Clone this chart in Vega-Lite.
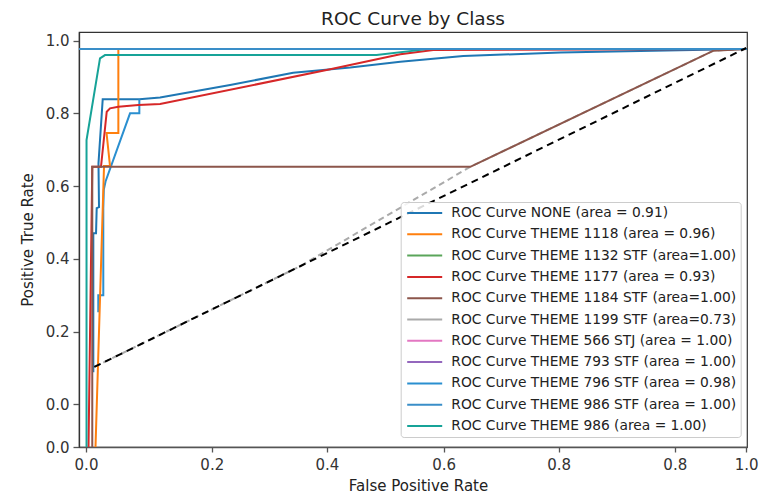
{
  "$schema": "https://vega.github.io/schema/vega-lite/v6.json",
  "width": 668,
  "height": 415,
  "autosize": {"type": "none"},
  "padding": {"left": 79, "top": 32, "right": 16, "bottom": 51},
  "background": "white",
  "title": {"text": "ROC Curve by Class", "fontSize": 18.5, "fontWeight": "normal", "font": "DejaVu Sans", "color": "#222222", "offset": 4},
  "datasets": {
    "grey": [
      {"s": "ROC Curve THEME 1199 STF (area=0.73)", "o": 1, "x": 0.0126, "y": 0.1026},
      {"s": "ROC Curve THEME 1199 STF (area=0.73)", "o": 2, "x": 0.3244, "y": 0.3796},
      {"s": "ROC Curve THEME 1199 STF (area=0.73)", "o": 3, "x": 0.5821, "y": 0.6528},
      {"s": "ROC Curve THEME 1199 STF (area=0.73)", "o": 4, "x": 0.9504, "y": 0.972},
      {"s": "ROC Curve THEME 1199 STF (area=0.73)", "o": 5, "x": 1.0, "y": 0.977}
    ],
    "curves": [
      {"s": "ROC Curve NONE (area = 0.91)", "o": 1, "x": 0.0111, "y": 0.088},
      {"s": "ROC Curve NONE (area = 0.91)", "o": 2, "x": 0.0111, "y": 0.4704},
      {"s": "ROC Curve NONE (area = 0.91)", "o": 3, "x": 0.0152, "y": 0.4704},
      {"s": "ROC Curve NONE (area = 0.91)", "o": 4, "x": 0.0162, "y": 0.5392},
      {"s": "ROC Curve NONE (area = 0.91)", "o": 5, "x": 0.0197, "y": 0.5419},
      {"s": "ROC Curve NONE (area = 0.91)", "o": 6, "x": 0.0189, "y": 0.6622},
      {"s": "ROC Curve NONE (area = 0.91)", "o": 7, "x": 0.0253, "y": 0.8382},
      {"s": "ROC Curve NONE (area = 0.91)", "o": 8, "x": 0.0808, "y": 0.8382},
      {"s": "ROC Curve NONE (area = 0.91)", "o": 9, "x": 0.1122, "y": 0.8432},
      {"s": "ROC Curve NONE (area = 0.91)", "o": 10, "x": 0.2183, "y": 0.8776},
      {"s": "ROC Curve NONE (area = 0.91)", "o": 11, "x": 0.3138, "y": 0.9114},
      {"s": "ROC Curve NONE (area = 0.91)", "o": 12, "x": 0.4002, "y": 0.9257},
      {"s": "ROC Curve NONE (area = 0.91)", "o": 13, "x": 0.476, "y": 0.9417},
      {"s": "ROC Curve NONE (area = 0.91)", "o": 14, "x": 0.5715, "y": 0.9573},
      {"s": "ROC Curve NONE (area = 0.91)", "o": 15, "x": 0.7185, "y": 0.967},
      {"s": "ROC Curve NONE (area = 0.91)", "o": 16, "x": 1.0, "y": 0.977},
      {"s": "ROC Curve THEME 796 STF (area = 0.98)", "o": 1, "x": 0.0186, "y": 0.2531},
      {"s": "ROC Curve THEME 796 STF (area = 0.98)", "o": 2, "x": 0.0186, "y": 0.2999},
      {"s": "ROC Curve THEME 796 STF (area = 0.98)", "o": 3, "x": 0.0262, "y": 0.2999},
      {"s": "ROC Curve THEME 796 STF (area = 0.98)", "o": 4, "x": 0.0262, "y": 0.5392},
      {"s": "ROC Curve THEME 796 STF (area = 0.98)", "o": 5, "x": 0.027, "y": 0.59},
      {"s": "ROC Curve THEME 796 STF (area = 0.98)", "o": 6, "x": 0.0296, "y": 0.6125},
      {"s": "ROC Curve THEME 796 STF (area = 0.98)", "o": 7, "x": 0.0667, "y": 0.7997},
      {"s": "ROC Curve THEME 796 STF (area = 0.98)", "o": 8, "x": 0.0808, "y": 0.7997},
      {"s": "ROC Curve THEME 796 STF (area = 0.98)", "o": 9, "x": 0.0808, "y": 0.8382},
      {"s": "ROC Curve THEME 1118 (area = 0.96)", "o": 1, "x": 0.0144, "y": -0.1175},
      {"s": "ROC Curve THEME 1118 (area = 0.96)", "o": 2, "x": 0.0273, "y": 0.6547},
      {"s": "ROC Curve THEME 1118 (area = 0.96)", "o": 3, "x": 0.0364, "y": 0.6547},
      {"s": "ROC Curve THEME 1118 (area = 0.96)", "o": 4, "x": 0.0311, "y": 0.7455},
      {"s": "ROC Curve THEME 1118 (area = 0.96)", "o": 5, "x": 0.049, "y": 0.7455},
      {"s": "ROC Curve THEME 1118 (area = 0.96)", "o": 6, "x": 0.049, "y": 0.977},
      {"s": "ROC Curve THEME 1177 (area = 0.93)", "o": 1, "x": 0.0038, "y": -0.1175},
      {"s": "ROC Curve THEME 1177 (area = 0.93)", "o": 2, "x": 0.0095, "y": 0.6528},
      {"s": "ROC Curve THEME 1177 (area = 0.93)", "o": 3, "x": 0.0227, "y": 0.6528},
      {"s": "ROC Curve THEME 1177 (area = 0.93)", "o": 4, "x": 0.0314, "y": 0.8041},
      {"s": "ROC Curve THEME 1177 (area = 0.93)", "o": 5, "x": 0.0364, "y": 0.8135},
      {"s": "ROC Curve THEME 1177 (area = 0.93)", "o": 6, "x": 0.049, "y": 0.8179},
      {"s": "ROC Curve THEME 1177 (area = 0.93)", "o": 7, "x": 0.0793, "y": 0.8225},
      {"s": "ROC Curve THEME 1177 (area = 0.93)", "o": 8, "x": 0.1122, "y": 0.8253},
      {"s": "ROC Curve THEME 1177 (area = 0.93)", "o": 9, "x": 0.3699, "y": 0.9208},
      {"s": "ROC Curve THEME 1177 (area = 0.93)", "o": 10, "x": 0.476, "y": 0.962},
      {"s": "ROC Curve THEME 1177 (area = 0.93)", "o": 11, "x": 0.526, "y": 0.9738},
      {"s": "ROC Curve THEME 1177 (area = 0.93)", "o": 12, "x": 1.0, "y": 0.977},
      {"s": "ROC Curve THEME 1184 STF (area=1.00)", "o": 1, "x": 0.0095, "y": -0.1175},
      {"s": "ROC Curve THEME 1184 STF (area=1.00)", "o": 2, "x": 0.0095, "y": 0.6528},
      {"s": "ROC Curve THEME 1184 STF (area=1.00)", "o": 3, "x": 0.5821, "y": 0.6528},
      {"s": "ROC Curve THEME 1184 STF (area=1.00)", "o": 4, "x": 0.9504, "y": 0.972},
      {"s": "ROC Curve THEME 1184 STF (area=1.00)", "o": 5, "x": 1.0, "y": 0.977},
      {"s": "ROC Curve THEME 986 (area = 1.00)", "o": 1, "x": 0.0008, "y": -0.1175},
      {"s": "ROC Curve THEME 986 (area = 1.00)", "o": 2, "x": 0.0008, "y": 0.7263},
      {"s": "ROC Curve THEME 986 (area = 1.00)", "o": 3, "x": 0.0212, "y": 0.951},
      {"s": "ROC Curve THEME 986 (area = 1.00)", "o": 4, "x": 0.0288, "y": 0.96},
      {"s": "ROC Curve THEME 986 (area = 1.00)", "o": 5, "x": 0.44, "y": 0.96},
      {"s": "ROC Curve THEME 986 (area = 1.00)", "o": 6, "x": 0.52, "y": 0.977},
      {"s": "ROC Curve THEME 986 (area = 1.00)", "o": 7, "x": 1.0, "y": 0.977},
      {"s": "ROC Curve THEME 1132 STF (area=1.00)", "o": 1, "x": -0.0106, "y": 0.977},
      {"s": "ROC Curve THEME 1132 STF (area=1.00)", "o": 2, "x": 1.0012, "y": 0.977},
      {"s": "ROC Curve THEME 566 STJ (area = 1.00)", "o": 1, "x": -0.0106, "y": 0.977},
      {"s": "ROC Curve THEME 566 STJ (area = 1.00)", "o": 2, "x": 1.0012, "y": 0.977},
      {"s": "ROC Curve THEME 793 STF (area = 1.00)", "o": 1, "x": -0.0106, "y": 0.977},
      {"s": "ROC Curve THEME 793 STF (area = 1.00)", "o": 2, "x": 1.0012, "y": 0.977},
      {"s": "ROC Curve THEME 986 STF (area = 1.00)", "o": 1, "x": -0.0106, "y": 0.977},
      {"s": "ROC Curve THEME 986 STF (area = 1.00)", "o": 2, "x": 1.0012, "y": 0.977}
    ],
    "diag": [
      {"o": 1, "x": 0.0126, "y": 0.1026},
      {"o": 2, "x": 1.0, "y": 0.9794}
    ]
  },
  "encoding": {
    "x": {
      "field": "x", "type": "quantitative",
      "scale": {"domain": [-0.0106, 1.0012], "nice": false, "zero": false},
      "axis": {
        "title": "False Positive Rate",
        "values": [0, 0.1905, 0.3649, 0.5416, 0.7159, 0.8918, 1.0],
        "labelExpr": "datum.value < 0.1 ? '0.0' : datum.value < 0.3 ? '0.2' : datum.value < 0.45 ? '0.4' : datum.value < 0.6 ? '0.6' : datum.value < 0.95 ? '0.8' : '1.0'",
        "grid": false, "tickSize": 5, "labelPadding": 5, "labelFlush": false,
        "labelFontSize": 15, "labelColor": "#333333", "labelFont": "DejaVu Sans",
        "titleFontSize": 15, "titleFontWeight": "normal", "titleFont": "DejaVu Sans", "titleColor": "#222222",
        "titleX": 339, "titleY": 43.5, "titleBaseline": "alphabetic", "titleAlign": "center",
        "domainColor": "#555555", "domainWidth": 1.6, "tickColor": "#555555", "tickWidth": 1.3
      }
    },
    "y": {
      "field": "y", "type": "quantitative",
      "scale": {"domain": [-0.1175, 1.0234], "nice": false, "zero": false},
      "axis": {
        "title": "Positive True Rate",
        "values": [-0.1175, 0, 0.2, 0.4, 0.6, 0.8, 1.0],
        "labelExpr": "datum.value < -0.05 ? '0.0' : format(datum.value, '.1f')",
        "grid": false, "tickSize": 6, "labelPadding": 4, "labelFlush": false,
        "labelFontSize": 15, "labelColor": "#333333", "labelFont": "DejaVu Sans",
        "titleFontSize": 15, "titleFontWeight": "normal", "titleFont": "DejaVu Sans", "titleColor": "#222222",
        "titleX": -47, "titleY": 207.5, "titleBaseline": "alphabetic", "titleAlign": "center", "titleAngle": -90,
        "domainColor": "#333333", "domainWidth": 1.3, "tickColor": "#555555", "tickWidth": 1.3
      }
    },
    "order": {"field": "o", "type": "quantitative"},
    "color": {
      "field": "s", "type": "nominal",
      "scale": {
        "domain": [
          "ROC Curve NONE (area = 0.91)",
          "ROC Curve THEME 1118 (area = 0.96)",
          "ROC Curve THEME 1132 STF (area=1.00)",
          "ROC Curve THEME 1177 (area = 0.93)",
          "ROC Curve THEME 1184 STF (area=1.00)",
          "ROC Curve THEME 1199 STF (area=0.73)",
          "ROC Curve THEME 566 STJ (area = 1.00)",
          "ROC Curve THEME 793 STF (area = 1.00)",
          "ROC Curve THEME 796 STF (area = 0.98)",
          "ROC Curve THEME 986 STF (area = 1.00)",
          "ROC Curve THEME 986 (area = 1.00)"
        ],
        "range": ["#1f77b4", "#ff7f0e", "#5aa55a", "#d62728", "#8c564b", "#aaaaaa", "#e377c2", "#9467bd", "#2a8fd0", "#3a8ec8", "#17a398"]
      },
      "legend": {
        "title": null, "orient": "none", "legendX": 321.7, "legendY": 170,
        "labelFontSize": 13.8, "labelFont": "DejaVu Sans", "labelColor": "#222222", "labelLimit": 400,
        "symbolType": "M-3,0H3", "symbolSize": 136, "symbolStrokeWidth": 2,
        "symbolOffset": 13, "labelOffset": 19.6,
        "rowPadding": 7.3, "padding": 4,
        "fillColor": "rgba(255,255,255,0.85)", "strokeColor": "#cccccc", "cornerRadius": 3
      }
    }
  },
  "layer": [
    {
      "data": {"name": "grey"},
      "mark": {"type": "line", "strokeWidth": 2, "strokeDash": [6, 4], "clip": true}
    },
    {
      "data": {"name": "curves"},
      "mark": {"type": "line", "strokeWidth": 2, "clip": true}
    },
    {
      "data": {"name": "diag"},
      "mark": {"type": "line", "strokeWidth": 2, "strokeDash": [7, 5], "color": "black", "clip": true},
      "encoding": {"color": {"value": "black"}}
    }
  ],
  "config": {
    "view": {"stroke": "#333333", "strokeWidth": 1.2},
    "font": "DejaVu Sans"
  }
}
